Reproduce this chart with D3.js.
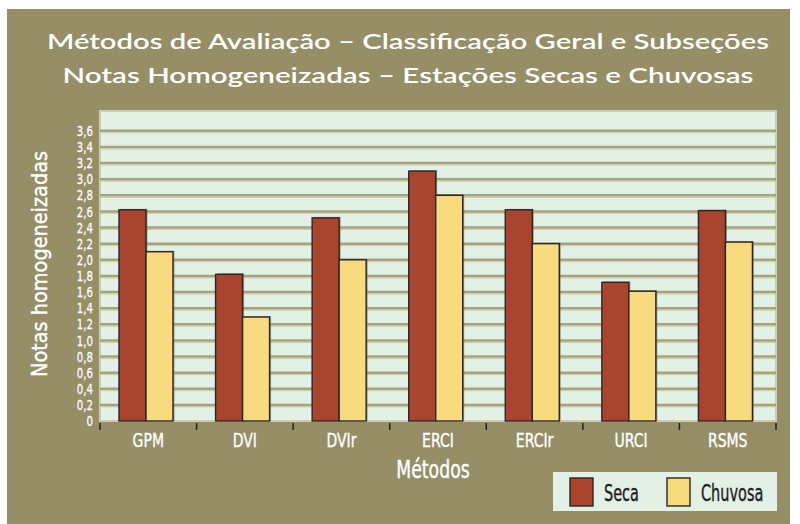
<!DOCTYPE html>
<html>
<head>
    <title>Métodos de Avaliação</title>
    <meta charset="utf-8">
    <style>
        body { margin: 0; background: #fff; }
        svg { display: block; }
        .cond { font-family: "DejaVu Sans", sans-serif; }
    </style>
</head>
<body>
<script src="https://d3js.org/d3.v7.min.js"></script>
<script>
    // Data
    const categories = ['GPM', 'DVI', 'DVIr', 'ERCI', 'ERCIr', 'URCI', 'RSMS'];
    const seriesNames = ['Seca', 'Chuvosa'];
    const seca = [2.62, 1.82, 2.52, 3.1, 2.62, 1.72, 2.61];
    const chuvosa = [2.1, 1.29, 2.0, 2.8, 2.2, 1.61, 2.22];
    const yTicks = [0, 0.2, 0.4, 0.6, 0.8, 1.0, 1.2, 1.4, 1.6, 1.8, 2.0, 2.2, 2.4, 2.6, 2.8, 3.0, 3.2, 3.4, 3.6];
    const titleLines = ['Métodos de Avaliação – Classificação Geral e Subseções',
        'Notas Homogeneizadas – Estações Secas e Chuvosas'];
    const titleWidths = [722, 691];

    const SIZES = { WIDTH: 800, HEIGHT: 524, LEFT: 100, RIGHT: 776, TOP: 111, BOTTOM: 421 };
    const COLORS = { frame: '#958e67', plot: '#e2f0e6', grid: '#a8a27a', Seca: '#a9452f', Chuvosa: '#f8da7f', edge: '#2b2620' };

    const svg = d3.select('body').append('svg')
        .attr('width', SIZES.WIDTH)
        .attr('height', SIZES.HEIGHT);

    // Olive frame
    svg.append('rect')
        .attr('x', 7).attr('y', 9)
        .attr('width', 783).attr('height', 515)
        .attr('fill', COLORS.frame);

    // Title (stretched to the width of the wide original face)
    svg.append('g').selectAll('text')
        .data(titleLines)
        .enter().append('text')
        .attr('x', 408)
        .attr('y', (d, i) => 48.5 + i * 34)
        .attr('text-anchor', 'middle')
        .attr('fill', '#fff')
        .attr('textLength', (d, i) => titleWidths[i])
        .attr('lengthAdjust', 'spacingAndGlyphs')
        .style('font-family', 'Lato, "Open Sans", sans-serif')
        .style('font-weight', 600)
        .style('font-size', '21px')
        .text(d => d);

    // Scales
    const x0 = d3.scaleBand().domain(categories).range([SIZES.LEFT, SIZES.RIGHT]);
    const x1 = d3.scaleBand().domain(seriesNames).range([0, 54]);
    const y = d3.scaleLinear().domain([0, 3.8]).range([SIZES.BOTTOM, SIZES.BOTTOM - 3.8 * 80.6]);

    // Plot background
    svg.append('rect')
        .attr('x', SIZES.LEFT).attr('y', SIZES.TOP)
        .attr('width', SIZES.RIGHT - SIZES.LEFT).attr('height', SIZES.BOTTOM - SIZES.TOP)
        .attr('fill', COLORS.plot)
        .attr('stroke', '#cfcdaf').attr('stroke-width', 2);

    // Gridlines with a light shadow below
    const grid = svg.append('g');
    grid.selectAll('line.shadow')
        .data(yTicks.filter(d => d > 0))
        .enter().append('line')
        .attr('class', 'shadow')
        .attr('x1', SIZES.LEFT).attr('x2', SIZES.RIGHT)
        .attr('y1', d => y(d) + 2).attr('y2', d => y(d) + 2)
        .attr('stroke', '#c8cdb4').attr('stroke-width', 1);
    grid.selectAll('line.major')
        .data(yTicks.filter(d => d > 0))
        .enter().append('line')
        .attr('class', 'major')
        .attr('x1', SIZES.LEFT).attr('x2', SIZES.RIGHT)
        .attr('y1', d => y(d)).attr('y2', d => y(d))
        .attr('stroke', COLORS.grid).attr('stroke-width', 2.5);

    // Bars
    const rows = categories.map((c, i) => ({ cat: c, values: [
        { key: 'Seca', value: seca[i] },
        { key: 'Chuvosa', value: chuvosa[i] }
    ]}));
    const groups = svg.append('g').selectAll('g')
        .data(rows)
        .enter().append('g')
        .attr('transform', d => `translate(${x0(d.cat) + 19},0)`);
    // drop shadow
    groups.selectAll('rect.sh')
        .data(d => d.values)
        .enter().append('rect')
        .attr('class', 'sh')
        .attr('x', d => x1(d.key) + 1.5)
        .attr('y', d => y(d.value) - 1)
        .attr('width', x1.bandwidth())
        .attr('height', d => y(0) - y(d.value) + 1)
        .attr('fill', '#6f6a55').attr('opacity', 0.6);
    groups.selectAll('rect.bar')
        .data(d => d.values)
        .enter().append('rect')
        .attr('class', 'bar')
        .attr('x', d => x1(d.key))
        .attr('y', d => y(d.value))
        .attr('width', x1.bandwidth())
        .attr('height', d => y(0) - y(d.value))
        .attr('fill', d => COLORS[d.key])
        .attr('stroke', COLORS.edge).attr('stroke-width', 1.4);

    // Y axis labels (narrowed to mimic the condensed face)
    const yAxis = svg.append('g')
        .attr('transform', `translate(${SIZES.LEFT - 7},0)`)
        .call(d3.axisLeft(y).tickValues(yTicks).tickSize(0).tickPadding(0)
            .tickFormat(d => d === 0 ? '0' : d3.format('.1f')(d).replace('.', ',')));
    yAxis.select('.domain').remove();
    yAxis.selectAll('text')
        .attr('class', 'cond')
        .attr('fill', '#fff')
        .attr('stroke', '#fff').attr('stroke-width', 0.3)
        .attr('transform', 'scale(0.7,1)')
        .style('font-size', '14.5px');

    // X axis
    const xAxis = svg.append('g')
        .attr('transform', `translate(0,${SIZES.BOTTOM})`)
        .call(d3.axisBottom(x0).tickSize(0).tickPadding(12));
    xAxis.select('.domain').remove();
    xAxis.selectAll('text')
        .attr('class', 'cond')
        .attr('fill', '#fff')
        .attr('stroke', '#fff').attr('stroke-width', 0.4)
        .attr('transform', 'scale(0.7,1)')
        .style('font-size', '20px');
    // boundary ticks
    const bounds = categories.map(c => x0(c)).concat([SIZES.RIGHT]);
    svg.append('g').selectAll('line')
        .data(bounds)
        .enter().append('line')
        .attr('x1', d => d).attr('x2', d => d)
        .attr('y1', SIZES.BOTTOM + 2).attr('y2', SIZES.BOTTOM + 9)
        .attr('stroke', '#222').attr('stroke-width', 1.5);

    // Axis titles
    svg.append('text')
        .attr('class', 'cond')
        .attr('transform', 'translate(433,478) scale(0.72,1)')
        .attr('text-anchor', 'middle')
        .attr('fill', '#fff')
        .attr('stroke', '#fff').attr('stroke-width', 0.4)
        .style('font-size', '24px')
        .text('Métodos');
    svg.append('text')
        .attr('class', 'cond')
        .attr('transform', 'translate(47,264) rotate(-90)')
        .attr('text-anchor', 'middle')
        .attr('fill', '#fff')
        .attr('stroke', '#fff').attr('stroke-width', 0.4)
        .attr('textLength', 226)
        .attr('lengthAdjust', 'spacingAndGlyphs')
        .style('font-size', '22px')
        .text('Notas homogeneizadas');

    // Legend
    const legend = svg.append('g').attr('transform', 'translate(553,472)');
    legend.append('rect')
        .attr('width', 224).attr('height', 39)
        .attr('fill', COLORS.plot);
    const item = legend.selectAll('g')
        .data(seriesNames)
        .enter().append('g')
        .attr('transform', (d, i) => `translate(${17 + i * 97},6)`);
    item.append('rect')
        .attr('width', 23).attr('height', 28)
        .attr('fill', d => COLORS[d])
        .attr('stroke', COLORS.edge).attr('stroke-width', 1.4);
    item.append('text')
        .attr('class', 'cond')
        .attr('transform', 'translate(34,23) scale(0.63,1)')
        .attr('fill', '#1e1e1e')
        .attr('stroke', '#1e1e1e').attr('stroke-width', 0.4)
        .style('font-size', '23px')
        .text(d => d);
</script>
</body>
</html>
